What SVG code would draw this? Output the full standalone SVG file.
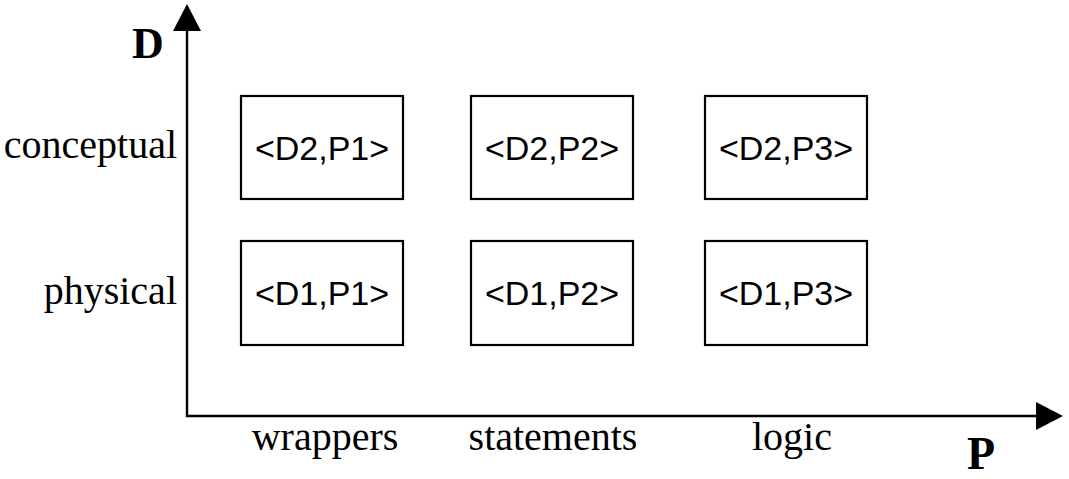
<svg xmlns="http://www.w3.org/2000/svg" width="1069" height="479" viewBox="0 0 1069 479">
<style>
.box{fill:#fff;stroke:#000;stroke-width:2.2}
.lbl{font-family:"Liberation Sans",Arial,sans-serif;font-size:34px;text-anchor:middle;fill:#000}
.ser{font-family:"Liberation Serif","Times New Roman",serif;font-size:40px;fill:#000}
.big{font-family:"Liberation Serif","Times New Roman",serif;font-weight:bold;fill:#000}
.ax{stroke:#000;stroke-width:2.4;fill:none}
</style>
<rect width="1069" height="479" fill="#fff"/>
<g id="connectors">
<polyline class="ax" points="187,28 187,416 1040,416"/>
<polygon points="187,4 173,31 201,31" fill="#000"/>
<polygon points="1063,416 1036,402 1036,430" fill="#000"/>
</g>
<text class="big" x="148" y="58" text-anchor="middle" font-size="44">D</text>
<text class="big" x="981" y="469" text-anchor="middle" font-size="46">P</text>
<text class="ser" x="177" y="158" text-anchor="end">conceptual</text>
<text class="ser" x="177" y="304" text-anchor="end">physical</text>
<text class="ser" x="325" y="450" text-anchor="middle">wrappers</text>
<text class="ser" x="553" y="450" text-anchor="middle">statements</text>
<text class="ser" x="792" y="450" text-anchor="middle">logic</text>
<g id="n_d2p1"><rect class="box" x="241" y="96" width="162" height="103"/><text class="lbl" x="322" y="160">&lt;D2,P1&gt;</text></g>
<g id="n_d2p2"><rect class="box" x="471" y="96" width="162" height="103"/><text class="lbl" x="552" y="160">&lt;D2,P2&gt;</text></g>
<g id="n_d2p3"><rect class="box" x="705" y="96" width="162" height="103"/><text class="lbl" x="786" y="160">&lt;D2,P3&gt;</text></g>
<g id="n_d1p1"><rect class="box" x="241" y="241" width="162" height="104"/><text class="lbl" x="322" y="305">&lt;D1,P1&gt;</text></g>
<g id="n_d1p2"><rect class="box" x="471" y="241" width="162" height="104"/><text class="lbl" x="552" y="305">&lt;D1,P2&gt;</text></g>
<g id="n_d1p3"><rect class="box" x="705" y="241" width="162" height="104"/><text class="lbl" x="786" y="305">&lt;D1,P3&gt;</text></g>
</svg>
